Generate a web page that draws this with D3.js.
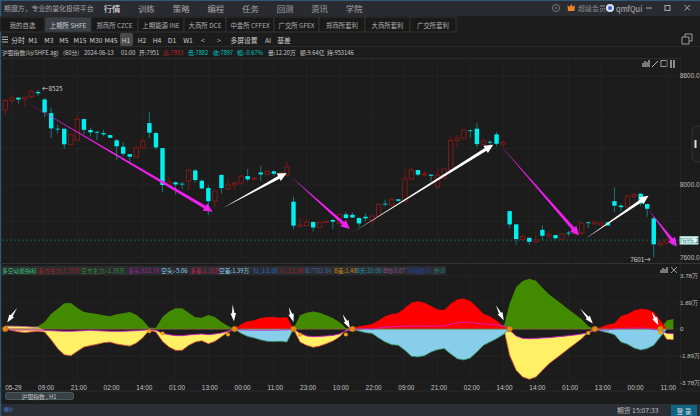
<!DOCTYPE html>
<html>
<head>
<meta charset="utf-8">
<script src="https://cdnjs.cloudflare.com/ajax/libs/d3/7.8.5/d3.min.js"></script>
<style>
  html, body { margin: 0; padding: 0; background: #1c1c1c; }
  svg { display: block; font-family: "Noto Sans CJK SC", "Noto Sans", sans-serif; }
  .axis path, .axis line { display: none; }
</style>
</head>
<body>
<div id="chart-area"></div>
<script>
// [open, high, low, close] per 60 min bar
const ohlc = [
  [8412,8472,8382,8465],[8465,8494,8447,8480],[8480,8483,8447,8470],[8472,8483,8428,8483],[8485,8520,8474,8515],
  [8511,8524,8491,8504],[8470,8478,8373,8399],[8395,8425,8259,8311],[8309,8331,8281,8305],[8309,8309,8197,8223],
  [8223,8278,8219,8278],[8246,8386,8245,8362],[8362,8366,8278,8303],[8302,8316,8265,8289],[8292,8298,8245,8289],
  [8285,8303,8267,8278],[8274,8274,8256,8259],[8245,8252,8134,8212],[8210,8234,8157,8171],[8169,8169,8123,8155],
  [8153,8215,8151,8204],[8204,8258,8202,8241],[8340,8399,8258,8287],[8285,8291,8193,8206],[8202,8202,7958,7999],
  [7997,8043,7991,8015],[8013,8019,7947,8002],[8006,8017,7977,8002],[8021,8087,7973,8081],[8079,8087,8013,8026],
  [8022,8032,7977,7980],[7982,7999,7833,7910],[7910,7969,7877,7966],[8054,8061,7951,7982],[7977,8035,7973,7999],
  [7999,8017,7973,8010],[8010,8054,8000,8048],[8048,8087,8019,8030],[8032,8041,8024,8037],[8068,8105,8019,8057],
  [8057,8083,8054,8074],[8074,8079,8050,8061],[8054,8068,8046,8065],[8052,8127,8046,8098],[7907,7934,7756,7775],
  [7771,7820,7771,7778],[7776,7811,7775,7795],[7795,7798,7743,7765],[7765,7797,7763,7793],[7793,7804,7789,7797],
  [7806,7811,7758,7797],[7786,7841,7782,7837],[7837,7852,7811,7817],[7835,7848,7817,7820],[7817,7820,7767,7787],
  [7824,7842,7797,7815],[7804,7831,7773,7828],[7828,7898,7826,7892],[7896,7918,7881,7892],[7888,7927,7885,7921],
  [7920,7921,7907,7912],[7909,8083,7907,8032],[8032,8092,8024,8081],[8081,8083,8046,8056],[8054,8074,8043,8061],
  [8056,8057,8019,8050],[7988,8092,7982,8054],[8035,8090,8032,8087],[8083,8270,8065,8245],[8245,8274,8208,8258],
  [8256,8307,8252,8302],[8300,8302,8258,8296],[8309,8340,8206,8224],[8223,8254,8219,8241],[8237,8245,8219,8234],
  [8278,8292,8212,8226],[8224,8245,8208,8234],[7855,7855,7763,7782],[7782,7782,7670,7701],[7699,7727,7697,7716],
  [7708,7708,7668,7686],[7685,7725,7683,7696],[7752,7776,7694,7719],[7718,7749,7701,7729],[7723,7723,7701,7705],
  [7701,7734,7697,7730],[7736,7745,7716,7732],[7730,7736,7727,7734],[7734,7793,7721,7789],[7793,7797,7760,7789],
  [7784,7798,7782,7795],[7778,7793,7775,7789],[7793,7797,7775,7776],[7910,7986,7848,7885],[7885,7896,7855,7877],
  [7877,7943,7874,7938],[7936,7951,7921,7947],[7951,7953,7882,7897],[7894,7896,7822,7868],[7815,7826,7601,7672],
  [7668,7694,7664,7679],[7679,7697,7677,7696],[7701,7706,7664,7673]
];

// indicator series, unit 万, null where the series is not drawn
const bearMain = [.14,.19,.14,.14,.14,.19,.49,1.08,1.43,1.81,1.83,1.48,1.20,1.13,1.06,.96,.89,1.03,1.10,1.20,1.01,.61,.09,.09,.85,1.24,1.46,1.46,1.15,.82,.80,.99,.85,.49,.21,0,
  null,null,null,null,null,null,null,null,0,.96,1.15,1.24,1.15,.96,.77,.49,.07,0,
  null,null,null,null,null,null,null,null,null,null,null,null,null,null,null,null,null,null,null,null,null,null,0,1.78,2.96,3.38,3.54,3.40,2.91,2.44,2.09,1.74,1.38,1.03,.68,.19,0,
  null,null,null,null,null,null,null,null,null,0,.59,.70];
const bullMain = [null,null,null,null,null,null,null,null,null,null,null,null,null,null,null,null,null,null,null,null,null,null,null,null,null,null,null,null,null,null,null,null,null,null,null,0,
  .33,.54,.61,.77,.85,.85,.80,.85,0,
  null,null,null,null,null,null,null,0,.07,.19,.26,.35,.61,.89,1.06,1.13,1.48,1.85,1.95,1.85,1.62,1.38,1.34,1.78,2.07,2.14,1.97,1.55,1.08,.89,.59,.21,0,
  null,null,null,null,null,null,null,null,null,null,null,null,0,.14,.31,.40,.92,1.06,1.31,1.43,1.38,1.20,.61,0,null,null];
const bearLower = [0,-.1,-.2,-.25,-.2,-.15,-.21,-.75,-1.38,-1.81,-1.88,-1.57,-1.27,-1.17,-1.08,-.96,-.92,-1.06,-1.13,-1.20,-.99,-.61,-.07,-.21,-.87,-1.27,-1.50,-1.50,-1.15,-.92,-.82,-1.03,-.87,-.54,-.21,0,
  null,null,null,null,null,null,null,null,0,-.92,-1.15,-1.29,-1.20,-1.03,-.85,-.56,-.09,0,
  null,null,null,null,null,null,null,null,null,null,null,null,null,null,null,null,null,null,null,null,null,null,.23,-1.85,-2.91,-3.38,-3.54,-3.38,-2.91,-2.44,-2.09,-1.74,-1.38,-1.03,-.68,-.21,0,
  null,null,null,null,null,null,null,null,null,0,-.73,-.75];
const bullLower = [null,null,null,null,null,null,null,null,null,null,null,null,null,null,null,null,null,null,null,null,null,null,null,null,null,null,null,null,null,null,null,null,null,null,null,0,
  -.31,-.52,-.63,-.77,-.87,-.89,-.87,-.92,0,
  null,null,null,null,null,null,null,0,-.05,-.14,-.26,-.31,-.63,-.92,-1.10,-1.15,-1.50,-1.92,-1.97,-1.88,-1.62,-1.46,-1.38,-1.76,-2.09,-2.18,-2.04,-1.62,-1.15,-.92,-.68,-.40,0,
  null,null,null,null,null,null,null,null,null,null,null,null,0,-.16,-.26,-.40,-.92,-1.08,-1.34,-1.48,-1.38,-1.15,-.56,0,null,null];
const trendLine = [0,-.07,-.07,-.07,-.07,-.07,-.09,-.12,-.14,-.16,-.16,-.14,-.12,-.09,-.12,-.14,-.16,-.16,-.16,-.14,-.12,-.09,-.05,-.09,-.31,-.40,-.47,-.47,-.42,-.38,-.35,-.40,-.35,-.28,-.16,0,
  -.07,-.07,-.09,-.09,-.09,-.09,-.07,-.07,0,-.31,-.49,-.54,-.52,-.49,-.45,-.35,-.14,-.05,0,.02,0,.07,.12,.16,.19,.19,.21,.21,.21,.19,.21,.21,.35,.42,.47,.47,.40,.35,.33,.28,.23,
  -.09,-.49,-.66,-.68,-.66,-.63,-.61,-.56,-.52,-.47,-.42,-.35,-.26,-.09,-.07,-.07,.02,.02,.05,.07,.05,.05,-.05,-.05,-.31,-.33];
// the first bars have the yellow band reaching above the zero line
const yellowHead = [.21,.20,.19,.17,.14,.12];

const bigMarkers = [0, 35, 44, 53, 77, 90, 100];
const smallMarkers = [[22,-.16],[24,-.31],[34,-.38],[45,-.40],[52,-.38],[89,-.28],[100,-.26]];

const barTicks = [1,6,11,16,21,26,31,36,41,46,51,56,61,66,71,76,81,86,91,96,101];
const barLabels = ['05-29','09:00','21:00','02:00','14:00','01:00','13:00','00:00','11:00','23:00','10:00','22:00','09:00','21:00','02:00','14:00','14:00','01:00','13:00','00:00','11:00'];
const priceLabels = [8600, 8000, 7600];
const priceGrid = [8600, 8400, 8200, 8000, 7800, 7600];
const indicatorLabels = [3.78, 1.89, 0, -1.89, -3.78];
const lastPrice = 7695.2;

// big trend arrows on the price pane: bar, price -> bar, price
const priceArrows = [
  { c: '#f01ff0', from: [2.86,8463], to: [31.66,7852] },
  { c: '#ffffff', from: [33.2,7872], to: [42.96,8065] },
  { c: '#f01ff0', from: [43.67,8043], to: [52.6,7756] },
  { c: '#ffffff', from: [53.1,7738], to: [74.5,8221] },
  { c: '#f01ff0', from: [75.5,8221], to: [87.6,7721] },
  { c: '#ffffff', from: [88.5,7701], to: [98.2,7940] },
  { c: '#f01ff0', from: [98.2,7863], to: [102.55,7660] }
];
// small white pointers on the indicator pane: bar, value -> bar, value
const indicatorArrows = [
  { from: [1.8,1.50], to: [.3,.45] },
  { from: [34.7,1.72], to: [34.9,.55] },
  { from: [43.3,1.53], to: [44,.50] },
  { from: [51.5,1.03], to: [52.6,.05] },
  { from: [74.9,1.67], to: [76.1,.61] },
  { from: [87.8,1.43], to: [89.7,.38] },
  { from: [98.7,1.20], to: [99.7,.26] }
];

const navItems = ['行情','训练','策略','编程','任务','回测','资讯','学院'];
const tabs = ['我的自选','上期所 SHFE','郑商所 CZCE','上期能源 INE','大商所 DCE','中金所 CFFEX','广交所 GFEX','郑商所套利','大商所套利','广交所套利'];
const tabEdges = [0,45,91,138,184,226,274,319,365,410,456];
const periods = ['分时','M1','M3','M5','M15','M30','M45','H1','H2','H4','D1','W1','<','>','多屏设置','AI','基差'];
const periodX = [18,33,49,64,80,96,111,126,142,157,172,188,203,219,244,268,284];
const quoteInfo = [
  ['沪银指数(I@SHFE.ag)',2,'#c8c8c8'],['(60分)',63,'#c8c8c8'],['2024-06-13',84,'#c8c8c8'],['01:00',121,'#c8c8c8'],
  ['开:7951',139,'#c8c8c8'],['高:7953',163,'#c02020'],['低:7882',188,'#00c8c8'],['收:7897',213,'#00c8c8'],
  ['幅:-0.67%',237,'#00c8c8'],['量:12.20万',268,'#c8c8c8'],['额:9.64亿',300,'#c8c8c8'],['持:953146',327,'#c8c8c8']
];
const indicatorInfo = [
  ['多空动能指标',2,'#35c070'],['多方主力:1.39万',38,'#a82020'],['空方主力:-1.39万',81,'#2f8f2f'],['多头:922.78',128,'#a020a0'],
  ['空头:-5.06',161,'#87ceeb'],['多差:1.10万',190,'#c0204a'],['空差:1.39万',219,'#87ceeb'],['YJ_1:1.00',253,'#2070d0'],
  ['YJ_2:1.00',279,'#a82020'],['B:7782.54',305,'#4060a0'],['B差:1.48',334,'#c08a10'],['B天:20.00',356,'#2090a0'],
  ['B均:0.07',383,'#905090'],['XX指数:0',407,'#2040a0'],['升:0',434,'#209080']
];

const width = 700, height = 416;
const svg = d3.select('#chart-area').append('svg').attr('width', width).attr('height', height);

const xScale = d3.scaleLinear().domain([0, 102]).range([5.3, 673.4]);
const yPrice = d3.scaleLinear().domain([7600, 8600]).range([257.4, 75.9]);
const yInd = d3.scaleLinear().domain([-3.78, 3.78]).range([382.7, 275.3]);

function label(parent, txt, x, y, color, size, anchor) {
  return parent.append('text').text(txt).attr('x', x).attr('y', y)
    .attr('fill', color).attr('font-size', size)
    .attr('text-anchor', anchor || 'start').attr('dominant-baseline', 'central');
}

// ---- window chrome
function drawChrome() {
  const g = svg.append('g');
  g.append('rect').attr('width', width).attr('height', height).attr('fill', '#1c1c1c');
  g.append('rect').attr('width', width).attr('height', 16).attr('fill', '#292b30');
  g.append('rect').attr('y', 404).attr('width', width).attr('height', 12).attr('fill', '#2b2e34');
  g.append('rect').attr('width', 1.2).attr('height', height).attr('fill', '#2f5a78');
  g.append('rect').attr('width', width).attr('height', 1).attr('fill', '#2f5a78');

  label(g, '期魔方，专业的量化投研平台', 4, 8, '#a5a5a5', 6.9);
  navItems.forEach((t, i) => label(g, t, 112 + i * 34.6, 8, i === 0 ? '#e8e8e8' : '#a5a5a5', 8.4, 'middle'));

  g.append('circle').attr('cx', 556).attr('cy', 8).attr('r', 3.5).attr('fill', 'none').attr('stroke', '#777');
  g.append('circle').attr('cx', 556).attr('cy', 8).attr('r', 1).attr('fill', '#777');
  g.append('path').attr('d', 'M567.5,5 L569.5,7 L571.2,4 L573,7 L575,5 L574.5,11 L568,11 Z').attr('fill', '#e8832a');
  label(g, '超级会员', 578, 8, '#888', 7);
  g.append('circle').attr('cx', 610).attr('cy', 8).attr('r', 4).attr('fill', '#dfe3f5');
  g.append('circle').attr('cx', 610).attr('cy', 8).attr('r', 2).attr('fill', '#3f5fc8');
  label(g, 'qmfQui', 616, 8, '#b8b8b8', 7.5);
  g.append('line').attr('x1', 646).attr('x2', 652).attr('y1', 8).attr('y2', 8).attr('stroke', '#aaa');
  g.append('rect').attr('x', 665).attr('y', 5.5).attr('width', 5).attr('height', 5).attr('fill', 'none').attr('stroke', '#aaa');
  g.append('path').attr('d', 'M684.5,5 L690,10.5 M690,5 L684.5,10.5').attr('stroke', '#aaa');

  // market tabs
  tabs.forEach((t, i) => {
    g.append('rect').attr('x', tabEdges[i]).attr('y', 17).attr('width', tabEdges[i + 1] - tabEdges[i]).attr('height', 15)
      .attr('fill', i === 1 ? '#3b4046' : '#191919').attr('stroke', '#333');
    label(g, t, (tabEdges[i] + tabEdges[i + 1]) / 2, 25.5, i === 1 ? '#cfd2d6' : '#b0b0b0', 6.4, 'middle');
  });

  // period row
  g.append('path').attr('d', 'M2,37 H8 M2,39.5 H8 M2,42 H8').attr('stroke', '#ddd').attr('stroke-width', .8);
  g.append('rect').attr('x', 120).attr('y', 33).attr('width', 13).attr('height', 13).attr('rx', 2).attr('fill', '#4a4a4a');
  periods.forEach((t, i) => label(g, t, periodX[i], 39.8, '#cfcfcf', 6.8, 'middle'));
  g.append('path').attr('d', 'M682,37 h7 v7 h-7 Z M685,37 v-3 h7 v7 h-3').attr('fill', 'none').attr('stroke', '#bbb').attr('stroke-width', .8);

  g.append('line').attr('x1', 0).attr('x2', width).attr('y1', 46.5).attr('y2', 46.5).attr('stroke', '#2b2b2b');
  quoteInfo.forEach(d => label(g, d[0], d[1], 52.5, d[2], 5.8));
  g.append('line').attr('x1', 0).attr('x2', 680).attr('y1', 58.5).attr('y2', 58.5).attr('stroke', '#2b2b2b');
  g.append('line').attr('x1', 680.5).attr('x2', 680.5).attr('y1', 58).attr('y2', 391).attr('stroke', '#262626');

  // small toolbar glyphs top right of each pane
  g.append('path').attr('d', 'M643,67 v-4 M645,67 v-6 M647,67 v-5 M649,67 v-7').attr('stroke', '#bbb').attr('stroke-width', 1.2);
  g.append('path').attr('d', 'M652,67 L658,61').attr('stroke', '#bbb').attr('stroke-width', 1);
  g.append('rect').attr('x', 661).attr('y', 60.5).attr('width', 6).attr('height', 6).attr('fill', 'none').attr('stroke', '#bbb').attr('stroke-width', .8);
  g.append('path').attr('d', 'M671,60 v8 M674,60 v8').attr('stroke', '#bbb').attr('stroke-width', 1.4);

  // scroll handle on the right
  g.append('rect').attr('x', 692).attr('y', 126).attr('width', 14).attr('height', 36).attr('rx', 6).attr('fill', '#1f1f1f').attr('stroke', '#333');
  g.append('rect').attr('x', 694.5).attr('y', 140).attr('width', 2).attr('height', 8).attr('fill', '#ddd');
}

// ---- candles
function drawPricePane() {
  const g = svg.append('g');
  g.selectAll('.hgrid').data(priceGrid).join('line').attr('class', 'hgrid')
    .attr('x1', 2).attr('x2', 680).attr('y1', d => yPrice(d)).attr('y2', d => yPrice(d))
    .attr('stroke', '#262626').attr('stroke-width', .7);
  g.selectAll('.vgrid').data(barTicks).join('line').attr('class', 'vgrid')
    .attr('x1', d => xScale(d)).attr('x2', d => xScale(d)).attr('y1', 59).attr('y2', 262)
    .attr('stroke', '#262626').attr('stroke-width', .7);

  g.append('line').attr('x1', 2).attr('x2', 680)
    .attr('y1', yPrice(lastPrice)).attr('y2', yPrice(lastPrice))
    .attr('stroke', '#1c5c5c').attr('stroke-dasharray', '2,2');

  const bars = g.selectAll('.bar').data(ohlc).join('g').attr('class', 'bar');
  const isUp = d => d[3] >= d[0];
  bars.append('line')
    .attr('x1', (d, i) => xScale(i)).attr('x2', (d, i) => xScale(i))
    .attr('y1', d => yPrice(d[1])).attr('y2', d => yPrice(d[2]))
    .attr('stroke', d => isUp(d) ? '#7a1515' : '#16797b').attr('stroke-width', 1);
  bars.append('rect')
    .attr('x', (d, i) => xScale(i) - 2.2).attr('width', 4.4)
    .attr('y', d => yPrice(Math.max(d[0], d[3])))
    .attr('height', d => Math.max(.8, Math.abs(yPrice(d[0]) - yPrice(d[3]))))
    .attr('fill', d => isUp(d) ? '#1c1c1c' : '#00f0f0')
    .attr('stroke', d => isUp(d) ? '#8a1a1a' : 'none').attr('stroke-width', .9);

  priceArrows.forEach(a => {
    g.append('polygon').attr('fill', a.c)
      .attr('points', arrowPoints(xScale(a.from[0]), yPrice(a.from[1]), xScale(a.to[0]), yPrice(a.to[1]), 3.2, 8.5, 9));
  });

  label(g, '←8525', xScale(5) + 4, yPrice(8524) - 1.5, '#cfcfcf', 6.4);
  label(g, '7601→', xScale(99) - 3, yPrice(7601) + 2, '#cfcfcf', 6.4, 'end');

  const axis = d3.axisRight(yPrice).tickValues(priceLabels).tickFormat(d3.format('.1f')).tickSize(0);
  g.append('g').attr('class', 'axis').attr('transform', 'translate(680,0)').call(axis)
    .selectAll('text').attr('fill', '#c0c0c0').attr('font-size', 6.4).attr('x', 0);

  g.append('rect').attr('x', 680).attr('y', yPrice(lastPrice) - 3.6).attr('width', 18).attr('height', 7.6)
    .attr('fill', '#e8f4f4').attr('stroke', '#9cc');
  label(g, '7695.2', 689, yPrice(lastPrice) + .2, '#1a8a8a', 6.4, 'middle');
}

// tapered arrow: thin tail, fixed shaft width and head at the end point
function arrowPoints(x0, y0, x1, y1, shaft, headW, headL) {
  const dx = x1 - x0, dy = y1 - y0, len = Math.hypot(dx, dy);
  const ux = dx / len, uy = dy / len, nx = -uy, ny = ux;
  const bx = x1 - ux * headL, by = y1 - uy * headL;
  return [
    [x0, y0],
    [bx + nx * shaft / 2, by + ny * shaft / 2],
    [bx + nx * headW / 2, by + ny * headW / 2],
    [x1, y1],
    [bx - nx * headW / 2, by - ny * headW / 2],
    [bx - nx * shaft / 2, by - ny * shaft / 2]
  ].map(p => p.join(',')).join(' ');
}

// ---- indicator
function drawIndicatorPane() {
  const g = svg.append('g');
  g.append('rect').attr('x', 1).attr('y', 266).attr('width', 445).attr('height', 9).attr('fill', '#2a2c30');
  g.append('line').attr('x1', 0).attr('x2', 700).attr('y1', 263.5).attr('y2', 263.5).attr('stroke', '#333');
  indicatorInfo.forEach(d => label(g, d[0], d[1], 270.5, d[2], 5.8));
  g.append('path').attr('d', 'M661,273 v-3 M663,273 v-5 M665,273 v-4 M667,273 v-6').attr('stroke', '#bbb').attr('stroke-width', 1.2);
  g.append('path').attr('d', 'M671,267 L677,273 M677,267 L671,273').attr('stroke', '#bbb').attr('stroke-width', .8);

  g.selectAll('.vgrid2').data(barTicks).join('line').attr('class', 'vgrid2')
    .attr('x1', d => xScale(d)).attr('x2', d => xScale(d)).attr('y1', 276).attr('y2', 380)
    .attr('stroke', '#262626').attr('stroke-width', .7);
  g.selectAll('.hgrid2').data(indicatorLabels).join('line').attr('class', 'hgrid2')
    .attr('x1', 2).attr('x2', 680).attr('y1', d => yInd(d)).attr('y2', d => yInd(d))
    .attr('stroke', '#262626').attr('stroke-width', .7);

  const idx = d3.range(ohlc.length);
  const yellowTop = i => i < yellowHead.length ? yellowHead[i] : trendLine[i];

  function fillArea(values, topFn, color, edge) {
    const area = d3.area().defined(i => values[i] !== null)
      .x(i => xScale(i)).y0(i => yInd(topFn(i))).y1(i => yInd(values[i]));
    g.append('path').attr('d', area(idx)).attr('fill', color);
    if (edge) {
      const line = d3.line().defined(i => values[i] !== null).x(i => xScale(i)).y(i => yInd(values[i]));
      g.append('path').attr('d', line(idx)).attr('fill', 'none').attr('stroke', edge).attr('stroke-width', .8);
    }
  }
  fillArea(bearMain, () => 0, '#428a00');
  fillArea(bearLower, yellowTop, '#fff066', '#e8503a');
  fillArea(bullLower, () => 0, '#87ceeb', '#2e8b57');
  fillArea(bullMain, () => 0, '#ff0000');

  // outline of the first bars' yellow band
  const head = d3.line().x(i => xScale(i)).y(i => yInd(yellowHead[i]));
  g.append('path').attr('d', head(d3.range(yellowHead.length))).attr('fill', 'none').attr('stroke', '#d050a0').attr('stroke-width', .8);

  g.append('line').attr('x1', xScale(0)).attr('x2', xScale(102)).attr('y1', yInd(0)).attr('y2', yInd(0))
    .attr('stroke', '#7d6a34').attr('stroke-width', 1);

  const trend = d3.line().x(i => xScale(i)).y(i => yInd(trendLine[i]));
  g.append('path').attr('d', trend(idx)).attr('fill', 'none').attr('stroke', '#d020c8').attr('stroke-width', .9);

  g.selectAll('.big').data(bigMarkers).join('circle').attr('class', 'big')
    .attr('cx', d => xScale(d)).attr('cy', yInd(0)).attr('r', 2.8)
    .attr('fill', '#e08c12').attr('stroke', '#b8601a').attr('stroke-width', .6);
  g.selectAll('.small').data(smallMarkers).join('circle').attr('class', 'small')
    .attr('cx', d => xScale(d[0])).attr('cy', d => yInd(d[1])).attr('r', 2)
    .attr('fill', '#f0a010');

  indicatorArrows.forEach(a => {
    g.append('polygon').attr('fill', '#ffffff')
      .attr('points', arrowPoints(xScale(a.from[0]), yInd(a.from[1]), xScale(a.to[0]), yInd(a.to[1]), 2.4, 5.5, 8));
  });

  const xAxis = d3.axisBottom(xScale).tickValues(barTicks).tickFormat((d, i) => barLabels[i]).tickSize(0);
  g.append('g').attr('class', 'axis').attr('transform', 'translate(1,382)').call(xAxis)
    .selectAll('text').attr('fill', '#c4c4c4').attr('font-size', 6.4);

  const yAxis = d3.axisRight(yInd).tickValues(indicatorLabels)
    .tickFormat(d => d === 0 ? '0' : d + '万').tickSize(0);
  g.append('g').attr('class', 'axis').attr('transform', 'translate(680,0)').call(yAxis)
    .selectAll('text').attr('fill', '#c0c0c0').attr('font-size', 6.2).attr('x', 0);

  g.append('line').attr('x1', 0).attr('x2', 700).attr('y1', 391).attr('y2', 391).attr('stroke', '#2b2b2b');
  g.append('rect').attr('x', 5.5).attr('y', 392.5).attr('width', 68).attr('height', 7).attr('rx', 2)
    .attr('fill', '#3a4146').attr('stroke', '#5c7c80').attr('stroke-width', .6);
  label(g, '沪银指数 , H1', 39, 396, '#c4c4c4', 5.8, 'middle');

  // status bar
  g.append('circle').attr('cx', 6.5).attr('cy', 409.5).attr('r', 2.5).attr('fill', '#3f5a90');
  g.append('circle').attr('cx', 10.5).attr('cy', 409.5).attr('r', 2.5).attr('fill', '#2f4a70');
  label(g, '期货 15:07:33', 617, 410, '#c0c0c0', 6.8);
  g.append('rect').attr('x', 671).attr('y', 405).attr('width', 26).attr('height', 11).attr('fill', '#0f6484');
  label(g, '登 录', 684, 410.5, '#ddd', 6.8, 'middle');
}

drawChrome();
drawPricePane();
drawIndicatorPane();
</script>
</body>
</html>
